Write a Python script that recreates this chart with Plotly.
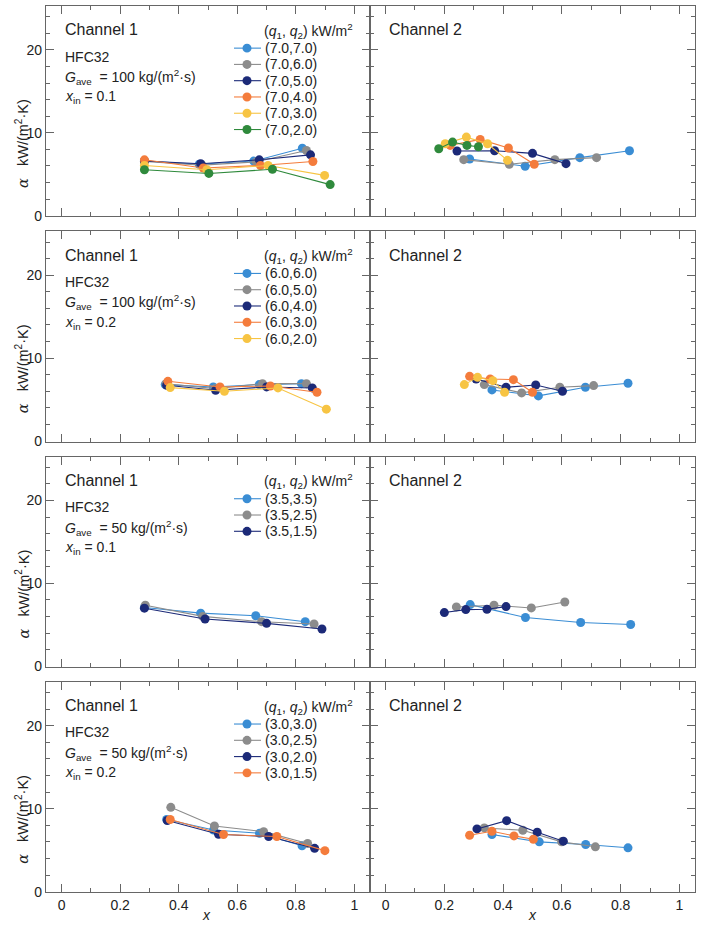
import plotly.graph_objects as go

# ---------------- data ----------------
x_tick_vals = [0, 0.2, 0.4, 0.6, 0.8, 1]
x_tick_text = ["0", "0.2", "0.4", "0.6", "0.8", "1"]
y_tick_vals = [0, 10, 20]
y_tick_text = ["0", "10", "20"]

channels = ["Channel 1", "Channel 2"]
g_ave = ["100", "100", "50", "50"]
x_in = ["0.1", "0.2", "0.1", "0.2"]

labels_r1 = ["(7.0,7.0)", "(7.0,6.0)", "(7.0,5.0)", "(7.0,4.0)", "(7.0,3.0)", "(7.0,2.0)"]
labels_r2 = ["(6.0,6.0)", "(6.0,5.0)", "(6.0,4.0)", "(6.0,3.0)", "(6.0,2.0)"]
labels_r3 = ["(3.5,3.5)", "(3.5,2.5)", "(3.5,1.5)"]
labels_r4 = ["(3.0,3.0)", "(3.0,2.5)", "(3.0,2.0)", "(3.0,1.5)"]

# row 1 (q1 = 7.0), channel 1 / channel 2
r1c1_x = [[0.283, 0.470, 0.656, 0.822], [0.283, 0.480, 0.665, 0.836], [0.283, 0.475, 0.675, 0.850],
          [0.283, 0.484, 0.679, 0.858], [0.283, 0.496, 0.705, 0.898], [0.283, 0.503, 0.720, 0.917]]
r1c1_y = [[6.59, 6.20, 6.59, 8.14], [6.55, 6.10, 6.50, 7.86], [6.60, 6.26, 6.74, 7.34],
          [6.74, 5.75, 6.06, 6.54], [6.06, 5.54, 6.06, 4.86], [5.54, 5.10, 5.60, 3.75]]
r1c2_x = [[0.286, 0.475, 0.661, 0.830], [0.266, 0.421, 0.576, 0.718], [0.243, 0.371, 0.500, 0.614],
          [0.220, 0.322, 0.418, 0.506], [0.203, 0.275, 0.347, 0.415], [0.181, 0.228, 0.277, 0.316]]
r1c2_y = [[6.84, 5.96, 7.00, 7.84], [6.76, 6.20, 6.76, 7.00], [7.80, 7.84, 7.52, 6.28],
          [8.48, 9.20, 8.16, 6.20], [8.68, 9.48, 8.68, 6.68], [8.08, 8.88, 8.48, 8.32]]

# row 2 (q1 = 6.0)
r2c1_x = [[0.354, 0.518, 0.675, 0.819], [0.357, 0.526, 0.686, 0.836], [0.359, 0.526, 0.700, 0.856],
          [0.363, 0.541, 0.713, 0.872], [0.371, 0.556, 0.739, 0.904]]
r2c1_y = [[6.80, 6.52, 6.80, 6.92], [6.90, 6.32, 6.92, 6.92], [6.72, 6.12, 6.52, 6.40],
          [7.20, 6.52, 6.64, 5.88], [6.44, 6.00, 6.40, 3.84]]
r2c2_x = [[0.362, 0.520, 0.680, 0.825], [0.336, 0.463, 0.593, 0.708], [0.308, 0.410, 0.511, 0.602],
          [0.286, 0.356, 0.435, 0.500], [0.268, 0.313, 0.365, 0.405]]
r2c2_y = [[6.16, 5.44, 6.48, 6.96], [6.80, 5.80, 6.48, 6.68], [7.48, 6.48, 6.76, 6.00],
          [7.80, 7.48, 7.40, 5.88], [6.80, 7.68, 7.28, 5.88]]

# row 3 (q1 = 3.5)
r3c1_x = [[0.283, 0.475, 0.663, 0.832], [0.286, 0.482, 0.683, 0.862], [0.283, 0.490, 0.700, 0.889]]
r3c1_y = [[7.09, 6.41, 6.10, 5.38], [7.37, 6.02, 5.38, 5.10], [7.01, 5.70, 5.18, 4.50]]
r3c2_x = [[0.288, 0.476, 0.664, 0.834], [0.241, 0.369, 0.496, 0.610], [0.200, 0.273, 0.345, 0.410]]
r3c2_y = [[7.44, 5.88, 5.28, 5.04], [7.16, 7.36, 7.04, 7.76], [6.48, 6.84, 6.88, 7.20]]

# row 4 (q1 = 3.0)
r4c1_x = [[0.359, 0.519, 0.676, 0.821], [0.373, 0.522, 0.690, 0.840], [0.361, 0.536, 0.707, 0.864],
          [0.371, 0.553, 0.735, 0.899]]
r4c1_y = [[8.70, 7.43, 7.04, 5.53], [10.16, 7.91, 7.23, 5.81], [8.58, 6.92, 6.64, 5.22],
          [8.70, 6.88, 6.64, 4.94]]
r4c2_x = [[0.362, 0.523, 0.681, 0.825], [0.336, 0.467, 0.599, 0.714], [0.311, 0.412, 0.516, 0.605],
          [0.286, 0.362, 0.437, 0.503]]
r4c2_y = [[6.88, 6.00, 5.68, 5.28], [7.68, 7.40, 6.00, 5.40], [7.56, 8.56, 7.16, 6.08],
          [6.80, 7.28, 6.72, 6.32]]

rows = [
    (labels_r1, (r1c1_x, r1c1_y), (r1c2_x, r1c2_y)),
    (labels_r2, (r2c1_x, r2c1_y), (r2c2_x, r2c2_y)),
    (labels_r3, (r3c1_x, r3c1_y), (r3c2_x, r3c2_y)),
    (labels_r4, (r4c1_x, r4c1_y), (r4c2_x, r4c2_y)),
]

# ---------------- style ----------------
W, H = 705, 933
palette = ["#3a8dd4", "#8c8c8c", "#1c2a78", "#f47c3c", "#f7c443", "#2f8a3c"]
axis_col = "#666666"
txt_col = "#222222"
FONT = "Liberation Sans, Arial, sans-serif"

col_px = [(46, 370), (370, 695)]
row_top0, row_h, row_step = 6, 212, 227
x_range = [-0.053, 1.053]
y_range = [-0.08, 25.3]


def px(v):
    return v / W


def py(v):
    return 1 - v / H


fig = go.Figure()
layout_axes = {}
annotations = []
shapes = []

for r, (labels, left, right) in enumerate(rows):
    top = row_top0 + r * row_step
    bot = top + row_h
    for c, (xs, ys) in enumerate([left, right]):
        idx = r * 2 + c + 1
        xa = "x" if idx == 1 else f"x{idx}"
        ya = "y" if idx == 1 else f"y{idx}"
        for i, lab in enumerate(labels):
            fig.add_trace(go.Scatter(
                x=xs[i], y=ys[i], mode="lines+markers", name=lab, showlegend=False,
                xaxis=xa, yaxis=ya,
                line=dict(color=palette[i], width=1.1),
                marker=dict(color=palette[i], size=9, line=dict(width=0)),
            ))
        x0, x1 = col_px[c]
        layout_axes["xaxis" if idx == 1 else f"xaxis{idx}"] = dict(
            domain=[px(x0), px(x1)], range=x_range, anchor=ya,
            tickvals=x_tick_vals, ticktext=x_tick_text,
            ticks="inside", ticklen=8, tickwidth=1, tickcolor=axis_col,
            showline=True, linecolor=axis_col, linewidth=1.2, mirror="ticks",
            showgrid=False, zeroline=False,
            showticklabels=(r == 3),
            tickfont=dict(size=14, color=txt_col, family=FONT),
            minor=dict(ticks="inside", ticklen=4, dtick=0.1, tick0=0, tickcolor=axis_col, tickwidth=1, showgrid=False),
        )
        layout_axes["yaxis" if idx == 1 else f"yaxis{idx}"] = dict(
            domain=[py(bot), py(top)], range=y_range, anchor=xa,
            tickvals=y_tick_vals, ticktext=y_tick_text,
            ticks="inside", ticklen=8, tickwidth=1, tickcolor=axis_col,
            showline=True, linecolor=axis_col, linewidth=1.2, mirror="ticks",
            showgrid=False, zeroline=False,
            showticklabels=(c == 0),
            tickfont=dict(size=14, color=txt_col, family=FONT),
            minor=dict(ticks="inside", ticklen=4, dtick=2, tick0=0, tickcolor=axis_col, tickwidth=1, showgrid=False),
        )
        # Channel label
        annotations.append(dict(x=px(x0 + 17), y=py(top + 24), xref="paper", yref="paper",
                                text=channels[c], showarrow=False, xanchor="left", yanchor="middle",
                                font=dict(size=16, color=txt_col, family=FONT)))

    # info text (left panel)
    info = ["HFC32",
            f"<i>G</i><sub>ave</sub>  = {g_ave[r]} kg/(m<sup>2</sup>·s)",
            f"<i>x</i><sub>in</sub> = {x_in[r]}"]
    for k, t in enumerate(info):
        annotations.append(dict(x=px(63), y=py(top + 51 + 20.5 * k), xref="paper", yref="paper",
                                text=t, showarrow=False, xanchor="left", yanchor="middle",
                                font=dict(size=14, color=txt_col, family=FONT)))

    # legend (left panel)
    annotations.append(dict(x=px(262), y=py(top + 25), xref="paper", yref="paper",
                            text="(<i>q</i><sub>1</sub>, <i>q</i><sub>2</sub>) kW/m<sup>2</sup>",
                            showarrow=False, xanchor="left", yanchor="middle",
                            font=dict(size=14, color=txt_col, family=FONT)))
    for i, lab in enumerate(labels):
        yy = top + 42.5 + 16.4 * i
        shapes.append(dict(type="line", xref="paper", yref="paper",
                           x0=px(234), x1=px(261), y0=py(yy), y1=py(yy),
                           line=dict(color=palette[i], width=1.1)))
        shapes.append(dict(type="circle", xref="paper", yref="paper",
                           x0=px(247 - 4.5), x1=px(247 + 4.5), y0=py(yy + 4.5), y1=py(yy - 4.5),
                           fillcolor=palette[i], line=dict(width=0)))
        annotations.append(dict(x=px(263), y=py(yy), xref="paper", yref="paper",
                                text=lab, showarrow=False, xanchor="left", yanchor="middle",
                                font=dict(size=14, color=txt_col, family=FONT)))

    # y-axis title
    annotations.append(dict(x=px(22), y=py(top + 139), xref="paper", yref="paper",
                            text="<span style='font-family:DejaVu Serif'><i>α</i></span>   kW/(m<sup>2</sup>·K)",
                            showarrow=False, textangle=-90, xanchor="center", yanchor="middle",
                            font=dict(size=14.5, color=txt_col, family=FONT)))

# x-axis titles
for xc in [207, 532]:
    annotations.append(dict(x=px(xc), y=py(922), xref="paper", yref="paper",
                            text="<i>x</i>", showarrow=False, xanchor="center", yanchor="middle",
                            font=dict(size=14, color=txt_col, family=FONT)))

fig.update_layout(
    width=W, height=H, autosize=False,
    margin=dict(l=0, r=0, t=0, b=0),
    paper_bgcolor="white", plot_bgcolor="white",
    showlegend=False,
    annotations=annotations, shapes=shapes,
    **layout_axes,
)

fig.write_html("out.html")
